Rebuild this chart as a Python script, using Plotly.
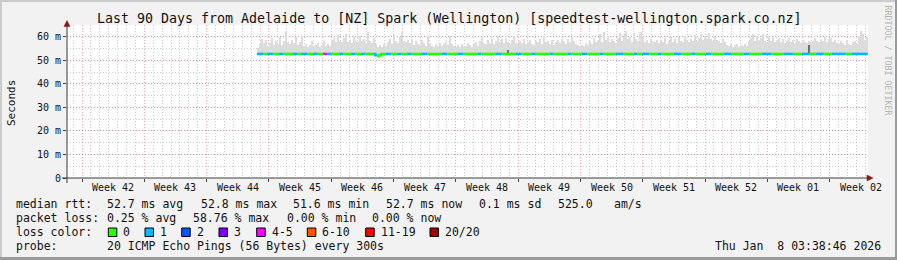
import plotly.graph_objects as go

# ---------------- data ----------------
WINDOW_DAYS = 90
week_labels = ["Week 42", "Week 43", "Week 44", "Week 45", "Week 46", "Week 47", "Week 48",
               "Week 49", "Week 50", "Week 51", "Week 52", "Week 01", "Week 02"]
first_week_start_day = 1.69          # first Sunday 00:00 after window start (days)
sample_start_day = 21.35             # first sample with data (days from window start)
sample_step_day = 0.225              # consolidation step (days)
smoke_floor_ms = 52.3                # min rtt seen under the smoke

# max rtt (smoke top) per sample, ms
smoke_max_ms = [
    55.2, 56.8, 59.0, 57.5, 58.8, 56.0, 57.2, 59.4, 56.5, 58.0,
    57.0, 60.1, 56.4, 58.2, 62.4, 57.8, 56.9, 58.5, 57.3, 59.8,
    56.6, 57.9, 60.4, 56.2, 57.0, 55.8, 56.5, 58.1, 55.9, 56.7,
    57.4, 55.6, 56.3, 58.0, 55.9, 57.1, 56.0, 58.6, 59.3, 57.6,
    60.8, 58.2, 57.7, 59.5, 61.2, 57.9, 58.8, 57.2, 59.9, 58.4,
    57.6, 60.2, 58.0, 59.1, 57.4, 62.0, 58.3, 57.5, 59.6, 56.8,
    55.8, 56.4, 55.5, 56.9, 55.9, 57.8, 59.2, 57.0, 60.6, 58.1,
    57.5, 59.7, 62.1, 58.4, 57.9, 58.6, 57.3, 59.0, 56.7, 58.2,
    57.0, 56.5, 58.8, 57.4, 56.1, 60.3, 57.2, 56.0, 55.7, 56.9,
    56.2, 57.5, 55.9, 56.8, 57.9, 56.3, 60.4, 57.0, 56.1, 55.8,
    56.5, 55.6, 57.1, 56.0, 55.9, 57.3, 56.4, 55.7, 56.8, 57.6,
    56.2, 58.3, 60.1, 57.4, 56.9, 58.7, 57.5, 59.2, 57.0, 58.1,
    60.0, 57.6, 58.9, 57.2, 59.6, 57.8, 56.9, 58.5, 60.2, 57.3,
    56.9, 58.2, 57.5, 59.1, 56.8, 57.9, 58.6, 57.1, 56.5, 58.3,
    57.7, 59.0, 56.9, 60.5, 57.6, 58.4, 57.0, 58.8, 56.6, 57.9,
    58.5, 57.3, 59.2, 58.0, 57.1, 58.9, 57.6, 59.4, 58.2, 57.0,
    56.3, 55.9, 56.7, 56.0, 57.2, 56.4, 58.0, 57.1, 59.3, 57.6,
    58.4, 61.3, 57.9, 62.0, 58.6, 60.2, 57.7, 59.0, 58.1, 57.5,
    59.6, 61.8, 58.3, 60.7, 62.5, 58.9, 60.0, 57.8, 61.4, 59.2,
    58.0, 62.2, 59.5, 57.9, 58.7, 57.4, 59.1, 58.2, 57.6, 58.8,
    57.3, 58.5, 57.8, 59.3, 57.1, 58.0, 60.1, 57.7, 58.9, 57.5,
    59.7, 58.2, 57.6, 60.3, 58.5, 57.9, 59.1, 58.3, 60.6, 58.0,
    59.4, 61.0, 58.6, 60.2, 58.9, 61.5, 59.0, 58.4, 60.0, 58.7,
    58.2, 57.5, 59.0, 57.8, 56.6, 55.9, 56.8, 55.7, 56.3, 57.0,
    55.8, 56.5, 56.0, 57.1, 56.2, 58.4, 59.6, 61.0, 58.3, 60.2,
    58.7, 59.5, 61.2, 58.1, 57.6, 59.8, 58.4, 60.0, 57.9, 58.6,
    59.3, 57.7, 58.9, 57.4, 58.2, 59.6, 57.8, 58.5, 57.2, 59.0,
    58.1, 57.5, 58.8, 57.9, 57.3, 58.4, 57.6, 58.0, 59.5, 58.3,
    57.7, 59.2, 58.0, 60.1, 57.6, 58.9, 59.6, 57.8, 58.5, 57.3,
    56.9, 58.2, 57.4, 56.6, 58.8, 57.1, 56.5, 57.9, 58.4, 57.0,
    60.3, 62.4, 61.2, 58.6, 59.9,
]

# median rtt, run-length encoded (value ms, number of samples)
median_run_ms = [52.7, 52.2, 51.7, 52.2, 52.7]
median_run_len = [59, 1, 1, 1, 243]

# packet loss class, run-length encoded (class index, number of samples)
loss_run_class = [1, 0, 1, 0, 1, 0, 1, 0, 1, 0,
                  1, 0, 4, 1, 0, 1, 0, 1, 0, 1,
                  0, 1, 0, 1, 0, 1, 0, 1, 0, 1,
                  0, 1, 0, 1, 0, 1, 0, 1, 0, 1,
                  0, 1, 0, 1, 0, 1, 0, 1, 0, 1,
                  0, 1, 0, 1, 0, 1, 0, 1, 0, 1,
                  0, 1, 0, 1, 0, 1, 0, 1, 0, 1,
                  0, 1, 0, 1, 0, 1, 0, 1, 0, 1]
loss_run_len = [3, 2, 3, 3, 2, 5, 2, 2, 3, 3,
                2, 3, 2, 2, 4, 2, 4, 2, 3, 2,
                4, 2, 4, 3, 3, 2, 3, 2, 5, 3,
                7, 3, 5, 3, 7, 2, 7, 3, 7, 3,
                5, 2, 7, 2, 7, 2, 5, 3, 6, 2,
                6, 4, 5, 2, 2, 4, 4, 2, 6, 4,
                5, 2, 5, 3, 6, 4, 6, 3, 6, 5,
                6, 5, 4, 4, 3, 4, 4, 7, 3, 8]

# darker smoke (dense high pings)
dark_smoke_day = [49.55, 83.37]
dark_smoke_low_ms = [53.3, 53.0]
dark_smoke_high_ms = [54.2, 56.4]

loss_labels = ["0", "1", "2", "3", "4-5", "6-10", "11-19", "20/20"]
loss_colors = ["#26ff00", "#00b8ff", "#0059ff", "#7e00ff", "#ff00ff", "#ff5500", "#ff0000", "#a10000"]

y_tick_vals = [0, 10, 20, 30, 40, 50, 60]
y_tick_text = ["0", "10 m", "20 m", "30 m", "40 m", "50 m", "60 m"]

title_text = "Last 90 Days from Adelaide to [NZ] Spark (Wellington) [speedtest-wellington.spark.co.nz]"
stats_rtt = ["median rtt:", "52.7 ms avg", "52.8 ms max", "51.6 ms min", "52.7 ms now",
             "0.1 ms sd", "525.0", "am/s"]
stats_loss = ["packet loss:", "0.25 % avg", "58.76 % max", "0.00 % min", "0.00 % now"]
probe_text = ["probe:", "20 ICMP Echo Pings (56 Bytes) every 300s"]
date_text = "Thu Jan \u00a08 03:38:46 2026"

# ---------------- layout constants ----------------
FW, FH = 897, 260
ML, MR, MT, MB = 67, 29, 25, 82
PW = FW - ML - MR
PH = FH - MT - MB
YMAX = 65
MONO = "DejaVu Sans Mono"


def pxx(px):
    return (px - ML) / PW


def pxy(py):
    return (FH - MB - py) / PH


# expand run-length data
median = []
for v, n in zip(median_run_ms, median_run_len):
    median += [v] * n
loss = []
for c, n in zip(loss_run_class, loss_run_len):
    loss += [c] * n

n_samples = len(smoke_max_ms)
edges = [sample_start_day + i * sample_step_day for i in range(n_samples + 1)]
centers = [(edges[i] + edges[i + 1]) / 2 for i in range(n_samples)]

fig = go.Figure()

# smoke
fig.add_trace(go.Bar(
    x=centers, base=smoke_floor_ms, y=[m - smoke_floor_ms for m in smoke_max_ms],
    width=sample_step_day, marker=dict(color="#dcdcdc", line=dict(width=0)),
    hoverinfo="skip", showlegend=False))
fig.add_trace(go.Bar(
    x=dark_smoke_day, base=dark_smoke_low_ms,
    y=[h - l for h, l in zip(dark_smoke_high_ms, dark_smoke_low_ms)],
    width=sample_step_day * 0.5, marker=dict(color="#6e6e6e", line=dict(width=0)),
    hoverinfo="skip", showlegend=False))

# median line coloured by loss
for cls in range(len(loss_colors)):
    xs, ys = [], []
    i = 0
    while i < n_samples:
        if loss[i] == cls:
            j = i
            while j < n_samples and loss[j] == cls:
                j += 1
            for k in range(i, j):
                xs.append(edges[k]); ys.append(median[k])
            xs.append(edges[j]); ys.append(median[j - 1])
            xs.append(None); ys.append(None)
            i = j
        else:
            i += 1
    if xs:
        fig.add_trace(go.Scatter(x=xs, y=ys, mode="lines", line=dict(color=loss_colors[cls], width=2.6, shape="hv"),
                                 hoverinfo="skip", showlegend=False))

RED_GRID = "rgba(240,90,90,0.55)"
GRAY_GRID = "rgba(150,150,150,0.5)"

fig.update_layout(
    width=FW, height=FH, margin=dict(l=ML, r=MR, t=MT, b=MB, pad=0),
    paper_bgcolor="#f2f2f2", plot_bgcolor="#ffffff",
    barmode="overlay", bargap=0, showlegend=False,
    font=dict(family=MONO, color="#111111"),
    xaxis=dict(range=[0, WINDOW_DAYS], tickmode="linear", tick0=first_week_start_day, dtick=7,
               showticklabels=False, ticks="outside", ticklen=3, tickcolor="#444444",
               showgrid=True, gridcolor=RED_GRID, griddash="1px,2px", gridwidth=1,
               zeroline=False, showline=False, fixedrange=True,
               minor=dict(tick0=first_week_start_day, dtick=1, showgrid=True, gridcolor=GRAY_GRID,
                          griddash="1px,2px", gridwidth=1, ticks="")),
    yaxis=dict(range=[0, YMAX], tickmode="array", tickvals=y_tick_vals, ticktext=y_tick_text,
               tickfont=dict(size=10, family=MONO, color="#111111"),
               ticks="outside", ticklen=3, tickcolor="#444444",
               showgrid=True, gridcolor=RED_GRID, griddash="1px,2px", gridwidth=1,
               zeroline=False, showline=False, fixedrange=True,
               minor=dict(dtick=5, tick0=0, showgrid=True, gridcolor=GRAY_GRID, griddash="1px,2px",
                          gridwidth=1, ticks="")),
)

ann = []
# week labels centred mid-week
for k, lab in enumerate(week_labels):
    ann.append(dict(x=first_week_start_day + 3.5 + 7 * k, xref="x", y=pxy(187.5), yref="paper",
                    text=lab, showarrow=False, xanchor="center", yanchor="middle",
                    font=dict(size=10, family=MONO, color="#111111")))
# title
ann.append(dict(x=pxx(448.5), xref="paper", y=pxy(19), yref="paper", text=title_text, showarrow=False,
                xanchor="center", yanchor="middle", font=dict(size=13.3, family=MONO, color="#111111")))
# y title
ann.append(dict(x=pxx(11), xref="paper", y=pxy(103), yref="paper", text="Seconds", textangle=-90,
                showarrow=False, xanchor="center", yanchor="middle",
                font=dict(size=11, family=MONO, color="#111111")))
# watermark
ann.append(dict(x=pxx(887.5), xref="paper", y=pxy(60), yref="paper", text="RRDTOOL / TOBI OETIKER",
                textangle=90, showarrow=False, xanchor="center", yanchor="middle",
                font=dict(size=8.3, family=MONO, color="#b4b4b4")))


def txt(s, px, py, anchor="left"):
    ann.append(dict(x=pxx(px), xref="paper", y=pxy(py), yref="paper", text=s, showarrow=False,
                    xanchor=anchor, yanchor="middle", borderpad=0,
                    font=dict(size=11.5, family=MONO, color="#111111")))


for s, px in zip(stats_rtt, [16, 107.3, 201, 293.3, 386, 479.3, 558.3, 614.3]):
    txt(s, px - 1, 204)
for s, px in zip(stats_loss, [16, 107.3, 193.3, 286.7, 372.3]):
    txt(s, px - 1, 218)
txt("loss color:", 15, 232)
box_px = [108.3, 145, 181.7, 219, 256.7, 307.3, 365.7, 430]
shapes = []
for lab, col, bx in zip(loss_labels, loss_colors, box_px):
    shapes.append(dict(type="rect", xref="paper", yref="paper", x0=pxx(bx), x1=pxx(bx + 8.5),
                       y0=pxy(236.5), y1=pxy(228), fillcolor=col, line=dict(color="#000000", width=1)))
    txt(lab, bx + 14, 232)
txt(probe_text[0], 15, 246)
txt(probe_text[1], 106.3, 246)
txt(date_text, 881.5, 246, anchor="right")

# axis lines with arrows
AX = "#3a3a3a"
ARROW = "#8b1414"
shapes.append(dict(type="line", xref="paper", yref="paper", x0=pxx(62), x1=pxx(868), y0=0, y1=0,
                    line=dict(color=AX, width=1)))
shapes.append(dict(type="line", xref="paper", yref="paper", x0=0, x1=0, y0=pxy(183), y1=pxy(24),
                    line=dict(color=AX, width=1)))
shapes.append(dict(type="path", xref="paper", yref="paper",
                   path=f"M {pxx(867)},{pxy(175)} L {pxx(873)},{pxy(178)} L {pxx(867)},{pxy(181)} Z",
                   fillcolor=ARROW, line=dict(color=ARROW, width=0.5)))
shapes.append(dict(type="path", xref="paper", yref="paper",
                   path=f"M {pxx(64)},{pxy(26.5)} L {pxx(67)},{pxy(20.5)} L {pxx(70)},{pxy(26.5)} Z",
                   fillcolor=ARROW, line=dict(color=ARROW, width=0.5)))
# image border shading
shapes.append(dict(type="rect", xref="paper", yref="paper", x0=pxx(0), x1=pxx(FW), y0=pxy(0), y1=pxy(2),
                   fillcolor="#cbcbcb", line=dict(width=0), layer="below"))
shapes.append(dict(type="rect", xref="paper", yref="paper", x0=pxx(0), x1=pxx(2), y0=pxy(0), y1=pxy(FH),
                   fillcolor="#cbcbcb", line=dict(width=0), layer="below"))
shapes.append(dict(type="rect", xref="paper", yref="paper", x0=pxx(0), x1=pxx(FW), y0=pxy(FH - 3), y1=pxy(FH),
                   fillcolor="#9b9b9b", line=dict(width=0), layer="below"))
shapes.append(dict(type="rect", xref="paper", yref="paper", x0=pxx(FW - 2), x1=pxx(FW), y0=pxy(0), y1=pxy(FH),
                   fillcolor="#9b9b9b", line=dict(width=0), layer="below"))

fig.update_layout(annotations=ann, shapes=shapes)
fig.write_html("out.html", config=dict(displayModeBar=False))
